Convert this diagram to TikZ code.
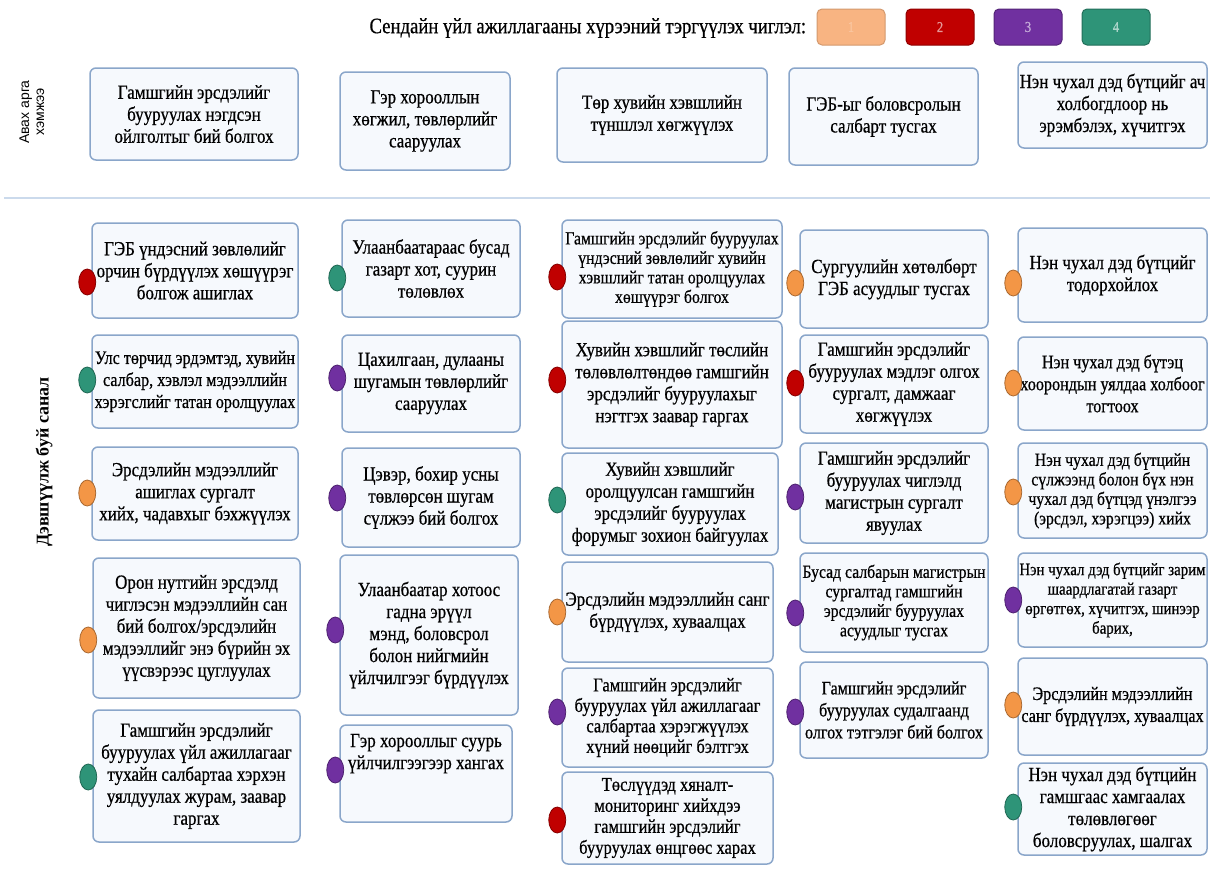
\documentclass[tikz,border=0pt]{standalone}
\usepackage{fontspec}
\setmainfont{Liberation Serif}[FakeStretch=0.85, FakeBold=0.6]
\newfontfamily\lsans{Liberation Sans}
\newfontfamily\plainserif{Liberation Serif}
\usetikzlibrary{shapes.geometric}
\definecolor{cor}{HTML}{F39646}
\definecolor{cre}{HTML}{C00000}
\definecolor{cpu}{HTML}{7030A0}
\definecolor{cgr}{HTML}{2E9478}
\definecolor{lor}{HTML}{F8B482}
\definecolor{bdr}{HTML}{8AA6CA}
\definecolor{bfill}{HTML}{F6F9FD}
\definecolor{sepc}{HTML}{CBDAEC}
\tikzset{
 boxst/.style={draw=bdr, fill=bfill, line width=1.5pt, rounded corners=6pt, align=center, inner sep=0pt, font=\fontsize{20}{22}\selectfont},
 smallt/.style={font=\fontsize{18.5}{19.5}\selectfont},
 snug/.style={font=\fontsize{19}{22}\selectfont},
 dotst/.style={ellipse, draw=#1!70!black, fill=#1, line width=0.8pt, minimum width=17pt, minimum height=26pt, inner sep=0pt},
 legst/.style={rounded corners=5pt, line width=1pt, minimum width=68pt, minimum height=36pt, font=\fontsize{15}{16}\selectfont},
}
\newcommand{\mybox}[7][]{\node[boxst,#1, minimum width={(#5)-(#3)}, minimum height={(#6)-(#4)}] (#2) at ({((#3)+(#5))/2},{((#4)+(#6))/2}) {#7};}
\newcommand{\mydot}[3]{\node[dotst=#3, xshift=-4pt] (#1-d) at (#1.west |- 0,#2) {};}
\begin{document}
\begin{tikzpicture}[x=1pt,y=-1pt]
\useasboundingbox (0,0) rectangle (1210,868);
% header
\node[anchor=west, font=\fontsize{22}{24}\selectfont] (title) at (366,28) {Сендайн үйл ажиллагааны хүрээний тэргүүлэх чиглэл:};
\node[legst, draw=lor!85!black, fill=lor, text=lor!75!white] (lg1) at (851,27) {1};
\node[legst, draw=cre!75!black, fill=cre, text=cre!40!white] (lg2) at (940,27) {2};
\node[legst, draw=cpu!75!black, fill=cpu, text=cpu!40!white] (lg3) at (1028,27) {3};
\node[legst, draw=cgr!75!black, fill=cgr, text=cgr!40!white] (lg4) at (1116,27) {4};
% side labels
\node[rotate=90, align=center, font=\lsans\fontsize{14}{15}\selectfont] (lab1) at (32,112) {Авах арга\\хэмжээ};
\node[rotate=90, font=\plainserif\fontsize{18}{20}\selectfont\bfseries] (lab2) at (44,462) {Дэвшүүлж буй санал};
\coordinate (s1) at (4,198);
\coordinate (s2) at (1210,198);
\draw[sepc, line width=2pt] (s1) -- (s2);
% top row
\mybox{t1}{90}{68}{298}{160}{Гамшгийн эрсдэлийг\\бууруулах нэгдсэн\\ойлголтыг бий болгох}
\mybox{t2}{340}{72}{510}{170}{Гэр хорооллын\\хөгжил, төвлөрлийг\\сааруулах}
\mybox{t3}{557}{68}{767}{162}{Төр хувийн хэвшлийн\\түншлэл  хөгжүүлэх}
\mybox{t4}{789}{68}{978}{165}{ГЭБ-ыг боловсролын\\салбарт тусгах}
\mybox{t5}{1018}{62}{1207}{148}{Нэн чухал дэд бүтцийг ач\\холбогдлоор нь\\эрэмбэлэх,  хүчитгэх}
% column 1
\mybox{a1}{92}{223}{298}{318}{ГЭБ үндэсний зөвлөлийг\\орчин бүрдүүлэх хөшүүрэг\\болгож ашиглах}
\mybox[snug]{a2}{92}{335}{298}{428}{Улс төрчид эрдэмтэд, хувийн\\салбар, хэвлэл мэдээллийн\\хэрэгслийг татан оролцуулах}
\mybox{a3}{92}{447}{298}{540}{Эрсдэлийн мэдээллийг\\ашиглах сургалт\\хийх, чадавхыг бэхжүүлэх}
\mybox{a4}{93}{558}{300}{698}{Орон нутгийн эрсдэлд\\чиглэсэн мэдээллийн сан\\бий болгох/эрсдэлийн\\мэдээллийг энэ бүрийн эх\\үүсвэрээс цуглуулах}
\mybox{a5}{93}{710}{300}{842}{Гамшгийн эрсдэлийг\\бууруулах үйл ажиллагааг\\тухайн салбартаа хэрхэн\\уялдуулах журам, заавар\\гаргах}
\mydot{a1}{282}{cre}
\mydot{a2}{380}{cgr}
\mydot{a3}{493}{cor}
\mydot{a4}{640}{cor}
\mydot{a5}{777}{cgr}
% column 2
\mybox{b1}{342}{220}{520}{317}{Улаанбаатараас бусад\\газарт хот, суурин\\төлөвлөх}
\mybox{b2}{342}{335}{520}{432}{Цахилгаан, дулааны\\шугамын төвлөрлийг\\сааруулах}
\mybox{b3}{342}{448}{520}{547}{Цэвэр, бохир усны\\төвлөрсөн шугам\\сүлжээ бий болгох}
\mybox{b4}{340}{555}{518}{715}{Улаанбаатар хотоос\\гадна эрүүл\\мэнд, боловсрол\\болон  нийгмийн\\үйлчилгээг бүрдүүлэх}
\mybox{b5}{340}{725}{512}{822}{Гэр хорооллыг суурь\\үйлчилгээгээр хангах\\~\\~}
\mydot{b1}{278}{cgr}
\mydot{b2}{378}{cpu}
\mydot{b3}{498}{cpu}
\mydot{b4}{630}{cpu}
\mydot{b5}{770}{cpu}
% column 3
\mybox[smallt]{c1}{562}{220}{782}{318}{Гамшгийн эрсдэлийг бууруулах\\үндэсний зөвлөлийг хувийн\\хэвшлийг татан оролцуулах\\хөшүүрэг болгох}
\mybox{c2}{562}{321}{782}{448}{Хувийн хэвшлийг төслийн\\төлөвлөлтөндөө гамшгийн\\эрсдэлийг бууруулахыг\\нэгтгэх заавар гаргах}
\mybox{c3}{562}{453}{778}{555}{Хувийн хэвшлийг\\оролцуулсан гамшгийн\\эрсдэлийг бууруулах\\форумыг зохион байгуулах}
\mybox{c4}{562}{562}{773}{662}{Эрсдэлийн мэдээллийн санг\\бүрдүүлэх, хуваалцах}
\mybox[font=\fontsize{19.5}{20.5}\selectfont]{c5}{562}{668}{773}{767}{Гамшгийн эрсдэлийг\\бууруулах үйл ажиллагааг\\салбартаа хэрэгжүүлэх\\хүний нөөцийг бэлтгэх}
\mybox[font=\fontsize{19.5}{21}\selectfont]{c6}{562}{772}{773}{864}{Төслүүдэд хяналт-\\мониторинг хийхдээ\\гамшгийн эрсдэлийг\\бууруулах өнцгөөс харах}
\mydot{c1}{277}{cre}
\mydot{c2}{380}{cre}
\mydot{c3}{500}{cgr}
\mydot{c4}{612}{cor}
\mydot{c5}{712}{cpu}
\mydot{c6}{820}{cre}
% column 4
\mybox{d1}{800}{230}{988}{328}{Сургуулийн хөтөлбөрт\\ГЭБ асуудлыг тусгах}
\mybox{d2}{800}{335}{988}{433}{Гамшгийн эрсдэлийг\\бууруулах мэдлэг олгох\\сургалт, дамжааг\\хөгжүүлэх}
\mybox{d3}{800}{443}{988}{543}{Гамшгийн эрсдэлийг\\бууруулах чиглэлд\\магистрын сургалт\\явуулах}
\mybox[smallt]{d4}{800}{553}{988}{652}{Бусад салбарын магистрын\\сургалтад гамшгийн\\эрсдэлийг бууруулах\\асуудлыг тусгах}
\mybox[snug]{d5}{800}{662}{988}{758}{Гамшгийн эрсдэлийг\\бууруулах судалгаанд\\олгох тэтгэлэг бий болгох}
\mydot{d1}{283}{cor}
\mydot{d2}{383}{cre}
\mydot{d3}{497}{cpu}
\mydot{d4}{613}{cpu}
\mydot{d5}{712}{cpu}
% column 5
\mybox{e1}{1018}{228}{1207}{322}{Нэн чухал дэд бүтцийг\\тодорхойлох}
\mybox[snug]{e2}{1018}{337}{1207}{430}{Нэн чухал дэд бүтэц\\хоорондын уялдаа холбоог\\тогтоох}
\mybox[smallt]{e3}{1018}{443}{1207}{538}{Нэн чухал дэд бүтцийн\\сүлжээнд болон бүх нэн\\чухал дэд бүтцэд үнэлгээ\\(эрсдэл, хэрэгцээ) хийх}
\mybox[font=\fontsize{17.5}{19.5}\selectfont]{e4}{1018}{553}{1207}{647}{Нэн чухал дэд бүтцийг зарим\\шаардлагатай газарт\\өргөтгөх,  хүчитгэх, шинээр\\барих,}
\mybox[snug]{e5}{1018}{658}{1207}{755}{Эрсдэлийн мэдээллийн\\санг бүрдүүлэх, хуваалцах}
\mybox{e6}{1018}{763}{1207}{855}{Нэн чухал дэд бүтцийн\\гамшгаас хамгаалах\\төлөвлөгөөг\\боловсруулах, шалгах}
\mydot{e1}{283}{cor}
\mydot{e2}{383}{cor}
\mydot{e3}{492}{cor}
\mydot{e4}{600}{cpu}
\mydot{e5}{705}{cor}
\mydot{e6}{807}{cgr}
\end{tikzpicture}
\end{document}
